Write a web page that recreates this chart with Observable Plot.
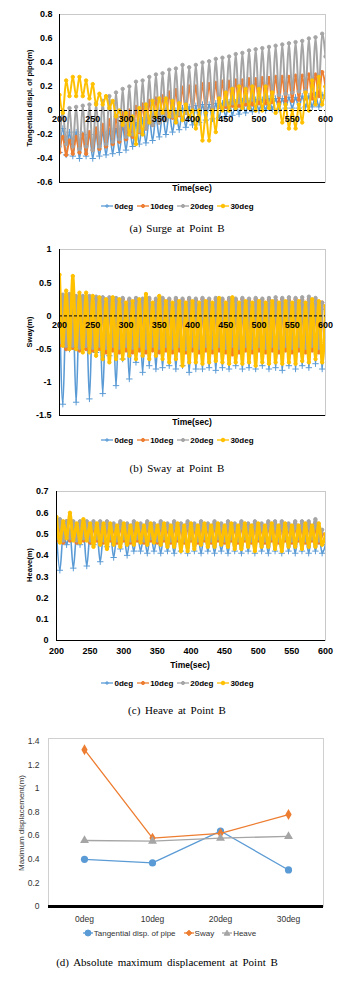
<!DOCTYPE html>
<html><head><meta charset="utf-8">
<script src="https://cdn.jsdelivr.net/npm/d3@7"></script>
<script src="https://cdn.jsdelivr.net/npm/@observablehq/plot@0.6"></script>
<style>
html,body{margin:0;padding:0;background:#fff}
body{width:339px;height:982px;overflow:hidden;position:relative;font-family:"Liberation Sans",Arial,sans-serif;color:#000}
.abs{position:absolute;white-space:nowrap}
.c{transform:translate(-50%,-50%)}
.r{transform:translate(-50%,-50%) rotate(-90deg)}
.cap{font-family:"Liberation Serif","DejaVu Serif",serif;font-size:11px;word-spacing:2px}
.leg{display:flex;justify-content:center;align-items:center;gap:4px;font-size:8px;font-weight:bold}
.leg span.it{display:flex;align-items:center;gap:1px}
svg{display:block}
</style></head><body>
<script>
// ---------- data ----------
const seriesNames = ["0deg", "10deg", "20deg", "30deg"];
const seriesColors = ["#5B9BD5", "#ED7D31", "#A5A5A5", "#FFC000"];
const tStart = 200, tEnd = 600, tStep = 5;
const xTicks = [200, 250, 300, 350, 400, 450, 500, 550, 600];
// time lag (s) of each series' samples, per panel
const surgeLag = [0, 0, 0, 0];
const swayLag = [0, 5, 5, 0];
const heaveLag = [0, 5, 5, 0];

// (a) Surge: tangential displacement of pipe (m), every 5 s from 200 to 600
const surge0 = [
 -0.35,-0.15,-0.37,-0.18,-0.38,-0.18,-0.40,-0.20,-0.38,-0.20,
 -0.40,-0.20,-0.38,-0.18,-0.37,-0.17,-0.36,-0.15,-0.35,-0.13,
 -0.33,-0.12,-0.30,-0.10,-0.28,-0.08,-0.27,-0.06,-0.25,-0.05,
 -0.22,-0.03,-0.20,-0.02,-0.18,0.00,-0.16,0.02,-0.14,0.03,
 -0.12,0.04,-0.10,0.05,-0.08,0.05,-0.07,0.06,-0.06,0.06,
 -0.05,0.07,-0.04,0.07,-0.03,0.08,-0.02,0.08,-0.01,0.09,
 0.00,0.09,0.00,0.10,0.01,0.10,0.01,0.10,0.02,0.11,
 0.02,0.11,0.02,0.12,0.03,0.12,0.03,0.13,0.03,0.13,
 0.10];
const surge10 = [
 -0.35,-0.22,-0.37,-0.25,-0.36,-0.22,-0.35,-0.20,-0.36,-0.18,
 -0.33,-0.15,-0.32,-0.12,-0.30,-0.08,-0.28,-0.05,-0.26,-0.02,
 -0.24,0.00,-0.22,0.03,-0.18,0.05,-0.15,0.08,-0.12,0.10,
 -0.10,0.12,-0.08,0.15,-0.06,0.17,-0.04,0.19,-0.02,0.20,
 0.00,0.20,0.00,0.22,0.02,0.22,0.02,0.23,0.03,0.24,
 0.03,0.24,0.04,0.25,0.04,0.25,0.05,0.26,0.05,0.26,
 0.06,0.27,0.06,0.27,0.07,0.28,0.07,0.28,0.08,0.28,
 0.08,0.29,0.09,0.29,0.10,0.30,0.10,0.30,0.12,0.32,
 0.20];
const surge20 = [
 -0.30,0.00,-0.28,0.02,-0.30,0.03,-0.32,0.04,-0.30,0.05,
 -0.33,0.06,-0.30,0.08,-0.28,0.12,-0.26,0.15,-0.24,0.18,
 -0.22,0.20,-0.20,0.24,-0.17,0.25,-0.15,0.28,-0.12,0.30,
 -0.10,0.31,-0.08,0.34,-0.05,0.35,-0.03,0.38,-0.02,0.36,
 0.00,0.38,0.00,0.40,0.02,0.41,0.03,0.43,0.04,0.44,
 0.05,0.45,0.06,0.47,0.07,0.48,0.08,0.50,0.09,0.51,
 0.10,0.52,0.11,0.53,0.12,0.54,0.13,0.55,0.14,0.56,
 0.15,0.57,0.16,0.58,0.17,0.60,0.18,0.61,0.20,0.64,
 0.45];
const surge30 = [
 0.13,-0.02,0.25,0.12,0.28,0.12,0.28,0.12,0.25,0.10,
 0.22,0.05,0.14,0.05,0.12,0.02,0.08,-0.05,0.00,-0.12,
 -0.02,-0.20,-0.05,-0.28,0.02,-0.20,0.05,-0.10,0.08,-0.05,
 0.10,-0.02,0.10,-0.05,0.08,-0.10,0.06,-0.08,0.05,-0.05,
 0.00,-0.15,0.00,-0.25,-0.02,-0.25,0.00,-0.18,0.10,0.00,
 0.15,0.00,0.18,0.02,0.20,0.02,0.18,0.02,0.20,0.00,
 0.18,0.00,0.20,0.02,0.15,-0.02,0.05,-0.10,0.05,-0.15,
 0.00,-0.15,0.05,-0.10,0.15,0.00,0.25,0.05,0.28,0.05,
 0.20];

// (b) Sway (m)
const sway0 = [
 0.20,-1.33,0.10,-0.50,0.15,-1.30,0.10,-0.50,0.15,-1.25,
 0.10,-0.55,0.15,-1.17,0.10,-0.60,0.12,-1.05,0.10,-0.65,
 0.12,-0.95,0.10,-0.70,0.12,-0.85,0.10,-0.75,0.12,-0.80,
 0.10,-0.78,0.12,-0.75,0.10,-0.80,0.12,-0.75,0.10,-0.85,
 0.12,-0.80,0.10,-0.80,0.12,-0.78,0.10,-0.82,0.12,-0.78,
 0.10,-0.80,0.12,-0.75,0.10,-0.80,0.12,-0.78,0.10,-0.80,
 0.12,-0.75,0.10,-0.80,0.12,-0.78,0.10,-0.82,0.12,-0.75,
 0.10,-0.80,0.12,-0.75,0.10,-0.78,0.12,-0.72,0.10,-0.80,
 0.10];
const sway10 = [
 0.30,-0.45,0.28,-0.50,0.30,-0.48,0.28,-0.52,0.27,-0.50,
 0.27,-0.52,0.26,-0.50,0.27,-0.55,0.26,-0.52,0.25,-0.55,
 0.25,-0.52,0.24,-0.55,0.25,-0.52,0.24,-0.55,0.25,-0.52,
 0.24,-0.55,0.25,-0.52,0.24,-0.55,0.25,-0.52,0.24,-0.55,
 0.25,-0.52,0.24,-0.55,0.25,-0.52,0.24,-0.55,0.25,-0.52,
 0.24,-0.55,0.25,-0.58,0.24,-0.55,0.25,-0.52,0.24,-0.55,
 0.25,-0.52,0.24,-0.55,0.25,-0.52,0.24,-0.55,0.25,-0.52,
 0.24,-0.55,0.25,-0.52,0.24,-0.55,0.25,-0.52,0.24,-0.55,
 0.20];
const sway20 = [
 0.35,-0.40,0.32,-0.45,0.33,-0.45,0.30,-0.48,0.30,-0.45,
 0.30,-0.48,0.29,-0.45,0.28,-0.48,0.28,-0.45,0.27,-0.48,
 0.27,-0.45,0.26,-0.48,0.27,-0.45,0.26,-0.48,0.27,-0.45,
 0.26,-0.48,0.27,-0.45,0.26,-0.48,0.27,-0.45,0.26,-0.50,
 0.27,-0.45,0.26,-0.48,0.27,-0.45,0.26,-0.48,0.27,-0.45,
 0.26,-0.48,0.27,-0.45,0.26,-0.48,0.27,-0.45,0.26,-0.48,
 0.27,-0.45,0.26,-0.48,0.27,-0.45,0.28,-0.48,0.27,-0.45,
 0.28,-0.48,0.27,-0.45,0.28,-0.48,0.29,-0.45,0.27,-0.48,
 0.20];
const sway30 = [
 0.62,-0.45,0.38,-0.50,0.60,-0.50,0.35,-0.55,0.35,-0.55,
 0.30,-0.60,0.28,-0.65,0.25,-0.70,0.28,-0.65,0.25,-0.65,
 0.20,-0.60,0.22,-0.65,0.25,-0.60,0.33,-0.65,0.20,-0.60,
 0.30,-0.65,0.22,-0.70,0.20,-0.65,0.22,-0.75,0.20,-0.70,
 0.22,-0.70,0.20,-0.72,0.22,-0.70,0.20,-0.68,0.27,-0.70,
 0.20,-0.72,0.28,-0.70,0.20,-0.72,0.22,-0.70,0.20,-0.75,
 0.22,-0.70,0.20,-0.72,0.22,-0.70,0.20,-0.72,0.22,-0.70,
 0.20,-0.72,0.22,-0.68,0.20,-0.70,0.25,-0.65,0.22,-0.70,
 0.15];

// (c) Heave (m)
const heave0 = [
 0.50,0.33,0.50,0.45,0.51,0.34,0.50,0.45,0.51,0.35,
 0.50,0.45,0.51,0.37,0.50,0.44,0.51,0.39,0.50,0.43,
 0.51,0.40,0.50,0.42,0.51,0.42,0.50,0.41,0.51,0.42,
 0.50,0.41,0.51,0.42,0.50,0.41,0.51,0.42,0.50,0.41,
 0.51,0.42,0.50,0.41,0.51,0.42,0.50,0.41,0.51,0.42,
 0.50,0.41,0.51,0.42,0.50,0.41,0.51,0.42,0.50,0.41,
 0.51,0.42,0.50,0.41,0.51,0.42,0.50,0.41,0.51,0.42,
 0.50,0.41,0.51,0.42,0.50,0.41,0.51,0.42,0.50,0.41,
 0.45];
const heave10 = [
 0.57,0.47,0.55,0.46,0.56,0.47,0.55,0.46,0.55,0.47,
 0.55,0.46,0.55,0.47,0.54,0.46,0.55,0.47,0.54,0.46,
 0.55,0.47,0.54,0.46,0.55,0.47,0.54,0.46,0.55,0.47,
 0.54,0.46,0.55,0.47,0.54,0.46,0.55,0.47,0.54,0.46,
 0.55,0.47,0.54,0.46,0.55,0.47,0.54,0.46,0.55,0.47,
 0.54,0.46,0.55,0.47,0.54,0.46,0.55,0.47,0.54,0.46,
 0.55,0.47,0.54,0.46,0.55,0.47,0.54,0.46,0.55,0.47,
 0.54,0.46,0.55,0.47,0.54,0.46,0.55,0.47,0.54,0.46,
 0.50];
const heave20 = [
 0.56,0.48,0.57,0.47,0.56,0.48,0.56,0.47,0.56,0.48,
 0.56,0.47,0.56,0.48,0.56,0.47,0.56,0.48,0.55,0.47,
 0.56,0.48,0.55,0.47,0.56,0.48,0.55,0.47,0.56,0.48,
 0.55,0.47,0.56,0.48,0.55,0.47,0.56,0.48,0.55,0.47,
 0.56,0.48,0.55,0.47,0.56,0.48,0.55,0.47,0.56,0.48,
 0.55,0.47,0.56,0.48,0.55,0.47,0.56,0.48,0.55,0.47,
 0.56,0.48,0.55,0.47,0.56,0.48,0.56,0.47,0.56,0.48,
 0.55,0.47,0.56,0.48,0.56,0.47,0.56,0.48,0.57,0.47,
 0.52];
const heave30 = [
 0.58,0.46,0.56,0.48,0.60,0.47,0.55,0.46,0.57,0.47,
 0.55,0.44,0.55,0.45,0.55,0.43,0.55,0.45,0.54,0.44,
 0.55,0.45,0.54,0.45,0.55,0.46,0.54,0.45,0.55,0.46,
 0.54,0.45,0.55,0.44,0.54,0.44,0.55,0.42,0.54,0.42,
 0.55,0.43,0.54,0.45,0.55,0.44,0.54,0.44,0.55,0.45,
 0.54,0.44,0.55,0.43,0.54,0.43,0.55,0.44,0.54,0.42,
 0.55,0.44,0.54,0.44,0.55,0.43,0.54,0.42,0.55,0.44,
 0.54,0.44,0.54,0.43,0.55,0.44,0.54,0.44,0.55,0.45,
 0.50];

// (d) Absolute maximum displacement (m)
const dCategories = ["0deg", "10deg", "20deg", "30deg"];
const dSeries = ["Tangential disp. of pipe", "Sway", "Heave"];
const dTangential = [0.40, 0.37, 0.64, 0.31];
const dSway = [1.33, 0.58, 0.62, 0.78];
const dHeave = [0.56, 0.555, 0.58, 0.595];
const dColors = ["#5B9BD5", "#ED7D31", "#A5A5A5"];
const dSymbols = ["circle", "diamond", "triangle"];

const surgeTicks = [-0.6, -0.4, -0.2, 0, 0.2, 0.4, 0.6, 0.8];
const swayTicks = [-1.5, -1, -0.5, 0, 0.5, 1];
const heaveTicks = [0, 0.1, 0.2, 0.3, 0.4, 0.5, 0.6, 0.7];
const dTicks = [0, 0.2, 0.4, 0.6, 0.8, 1, 1.2, 1.4];

// ---------- helpers ----------
const times = d3.range(tStart, tEnd + 1, tStep);
function toRows(list, lag) {
  return list.map((vals, i) => vals.map((v, j) => ({t: times[j] - lag[i], v, s: seriesNames[i]})));
}
function place(el, left, top) {
  el.style.position = "absolute"; el.style.left = left + "px"; el.style.top = top + "px";
  document.body.appendChild(el); return el;
}
function label(text, x, y, cls, css) {
  const d = document.createElement("div");
  d.className = "abs " + cls; d.textContent = text;
  d.style.left = x + "px"; d.style.top = y + "px";
  if (css) d.style.cssText += css;
  document.body.appendChild(d); return d;
}
function legend(items, y, css) {
  const ns = "http://www.w3.org/2000/svg";
  const d = document.createElement("div");
  d.className = "abs leg";
  d.style.cssText += "left:27px;width:301px;top:" + (y - 5) + "px;height:10px;" + (css || "");
  items.forEach(it => {
    const sp = document.createElement("span"); sp.className = "it";
    const w = it.w || 12;
    const s = document.createElementNS(ns, "svg");
    s.setAttribute("width", w); s.setAttribute("height", 8);
    const l = document.createElementNS(ns, "line");
    l.setAttribute("x1", 0); l.setAttribute("x2", w); l.setAttribute("y1", 4); l.setAttribute("y2", 4);
    l.setAttribute("stroke", it.color); l.setAttribute("stroke-width", 1.3);
    s.appendChild(l);
    const m = document.createElementNS(ns, "path");
    const cx = w / 2, cy = 4, r = it.r || 1.8;
    let p;
    if (it.symbol === "circle") p = `M${cx - r},${cy}a${r},${r} 0 1,0 ${2 * r},0a${r},${r} 0 1,0 ${-2 * r},0`;
    else if (it.symbol === "diamond") p = `M${cx},${cy - r}L${cx + r},${cy}L${cx},${cy + r}L${cx - r},${cy}Z`;
    else if (it.symbol === "triangle") p = `M${cx},${cy - r}L${cx + r},${cy + r * 0.8}L${cx - r},${cy + r * 0.8}Z`;
    else p = `M${cx - r},${cy}h${2 * r}M${cx},${cy - r}v${2 * r}`;
    m.setAttribute("d", p);
    m.setAttribute("fill", it.color); m.setAttribute("stroke", it.color); m.setAttribute("stroke-width", 1);
    s.appendChild(m);
    sp.appendChild(s);
    const t = document.createElement("span"); t.textContent = it.name;
    sp.appendChild(t);
    d.appendChild(sp);
  });
  document.body.appendChild(d);
}

const baseStyle = {fontFamily: "'Liberation Sans', Arial, sans-serif", fontSize: "9px", fontWeight: "bold", color: "#000", background: "transparent", overflow: "visible"};

function tsPlot(o) {
  const groups = toRows(o.values, o.lag);
  const marks = [
    Plot.frame({stroke: "#c9c9c9"}),
    Plot.axisY(o.yTicks, {tickSize: 0, tickPadding: o.tp, tickFormat: d => String(d), label: null})
  ];
  groups.forEach((g, i) => {
    marks.push(Plot.line(g, {x: "t", y: "v", stroke: seriesColors[i], strokeWidth: i === 0 ? 1.6 : o.sw, curve: "monotone-x", clip: true}));
    marks.push(Plot.dot(g, {x: "t", y: "v", fill: seriesColors[i], stroke: seriesColors[i], symbol: i === 0 ? "plus" : "circle", r: i === 0 ? 2.2 : 1.7, strokeWidth: 1, clip: true}));
  });
  marks.push(Plot.ruleX([tStart], {stroke: "#000", strokeWidth: 1}));
  marks.push(Plot.ruleY([o.yDomain[0]], {stroke: "#000", strokeWidth: 1}));
  if (o.zeroLine) {
    marks.push(Plot.ruleY([0], {stroke: "#000", strokeWidth: 1, strokeDasharray: "3,2"}));
    marks.push(Plot.text(xTicks, {x: d => d, y: 0, dy: 9, text: d => String(d), fontSize: 9}));
  } else {
    marks.push(Plot.axisX(xTicks, {tickSize: 0, tickPadding: 7, tickFormat: d => String(d), label: null}));
  }
  const p = Plot.plot({
    width: 339, height: o.height,
    marginTop: o.mt, marginBottom: o.mb, marginLeft: o.ml, marginRight: 14,
    x: {domain: [tStart, tEnd], axis: o.zeroLine ? null : undefined},
    y: {domain: o.yDomain},
    style: baseStyle,
    marks
  });
  return place(p, 0, o.top);
}

// ---------- panels ----------
const legItems = [
  {name: "0deg", color: seriesColors[0], symbol: "plus", r: 2},
  {name: "10deg", color: seriesColors[1], symbol: "circle", r: 1.6},
  {name: "20deg", color: seriesColors[2], symbol: "circle", r: 1.6},
  {name: "30deg", color: seriesColors[3], symbol: "circle", r: 1.8}
];

// (a)
tsPlot({top: 0, height: 196, mt: 14, mb: 14, ml: 59, yDomain: [-0.6, 0.8], yTicks: surgeTicks, tp: 7, zeroLine: true, sw: 2,
  lag: surgeLag, values: [surge0, surge10, surge20, surge30]});
label("Tangential displ. of pipe(m)", 29, 98, "r", "font-size:7.5px;font-weight:bold");
label("Time(sec)", 192, 188, "c", "font-size:8.5px;font-weight:bold");
legend(legItems, 206);
label("(a) Surge at Point B", 177, 228, "c cap");

// (b)
tsPlot({top: 235, height: 194, mt: 14, mb: 14, ml: 59, yDomain: [-1.5, 1], yTicks: swayTicks, tp: 8, zeroLine: true, sw: 3,
  lag: swayLag, values: [sway0, sway10, sway20, sway30]});
label("Sway(m)", 29, 332, "r", "font-size:7.5px;font-weight:bold");
label("Time(sec)", 192, 422, "c", "font-size:8.5px;font-weight:bold");
legend(legItems, 440);
label("(b) Sway at Point B", 177, 468, "c cap");

// (c)
tsPlot({top: 470, height: 200, mt: 21, mb: 30, ml: 56, yDomain: [0, 0.7], yTicks: heaveTicks, tp: 8, zeroLine: false, sw: 3,
  lag: heaveLag, values: [heave0, heave10, heave20, heave30]});
label("Heave(m)", 29, 565, "r", "font-size:7.5px;font-weight:bold");
label("Time(sec)", 190, 665, "c", "font-size:8.5px;font-weight:bold");
legend(legItems, 683);
label("(c) Heave at Point B", 177, 710, "c cap");

// (d)
{
  const dVals = [dTangential, dSway, dHeave];
  const marks = [
    Plot.frame({stroke: "#d0d0d0"}),
    Plot.axisY(dTicks, {tickSize: 0, tickPadding: 9, tickFormat: d => String(d), label: null}),
    Plot.axisX(dCategories, {tickSize: 0, tickPadding: 9, label: null}),
    Plot.ruleY([0], {stroke: "#000", strokeWidth: 3})
  ];
  dVals.forEach((vals, i) => {
    const rows = vals.map((v, j) => ({c: dCategories[j], v}));
    marks.push(Plot.line(rows, {x: "c", y: "v", stroke: dColors[i], strokeWidth: 1.3}));
    marks.push(Plot.dot(rows, {x: "c", y: "v", fill: dColors[i], symbol: dSymbols[i], r: i === 0 ? 3.6 : 3.3}));
  });
  const p = Plot.plot({
    width: 339, height: 206,
    marginTop: 18, marginBottom: 20, marginLeft: 48, marginRight: 16,
    x: {type: "point", domain: dCategories, padding: 0.5},
    y: {domain: [0, 1.425]},
    style: {...baseStyle, fontWeight: "normal", fontSize: "8.5px", color: "#333"},
    marks
  });
  place(p, 0, 720);
  label("Maximum displacement(m)", 21, 823, "r", "font-size:8px;color:#333");
  legend(dSeries.map((n, i) => ({name: n, color: dColors[i], symbol: dSymbols[i], r: i === 0 ? 3 : 2.8, w: 10})), 933,
    "left:19px;font-weight:normal;gap:8px;color:#333");
  label("(d) Absolute maximum displacement at Point B", 167, 962, "c cap");
}
</script>
</body></html>
